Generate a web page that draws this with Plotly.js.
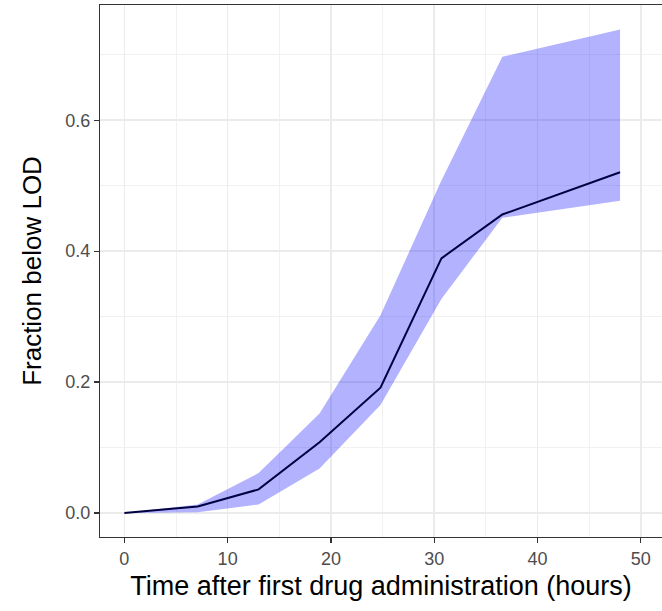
<!DOCTYPE html>
<html>
<head>
<meta charset="utf-8">
<script src="https://cdn.plot.ly/plotly-3.0.1.min.js"></script>
<style>html,body{margin:0;padding:0;background:#fff;}#chart{width:662px;height:611px;}</style>
</head>
<body>
<div id="chart"></div>
<script>
// Data
var timeHours = [0, 7.1, 13, 18.9, 24.8, 30.7, 36.6, 48];
var fractionMean = [0, 0.010, 0.036, 0.108, 0.1915, 0.389, 0.456, 0.5205];
var fractionLower = [0, 0.001, 0.013, 0.068, 0.165, 0.327, 0.451, 0.477];
var fractionUpper = [0, 0.013, 0.061, 0.152, 0.302, 0.508, 0.697, 0.7386];
var xTickVals = [0, 10, 20, 30, 40, 50];
var xMinorVals = [5, 15, 25, 35, 45];
var yTickVals = [0, 0.2, 0.4, 0.6];
var yTickText = ['0.0', '0.2', '0.4', '0.6'];
var yMinorVals = [0.1, 0.3, 0.5, 0.7];

var traces = [
  {x: timeHours, y: fractionLower, type: 'scatter', mode: 'lines',
   line: {width: 0, color: 'rgba(0,0,255,0)'}, hoverinfo: 'skip', showlegend: false},
  {x: timeHours, y: fractionUpper, type: 'scatter', mode: 'lines',
   line: {width: 0, color: 'rgba(0,0,255,0)'}, fill: 'tonexty',
   fillcolor: 'rgba(0,0,255,0.3)', hoverinfo: 'skip', showlegend: false},
  {x: timeHours, y: fractionMean, type: 'scatter', mode: 'lines',
   line: {width: 2, color: '#000040'}, showlegend: false}
];

var layout = {
  width: 662, height: 611,
  margin: {l: 100, r: 0, t: 5, b: 74},
  paper_bgcolor: '#ffffff', plot_bgcolor: '#ffffff',
  font: {family: 'Liberation Sans, Arial, sans-serif'},
  xaxis: {
    range: [-2.36, 52.06], tickvals: xTickVals, ticktext: xTickVals.map(String),
    showgrid: true, gridcolor: '#ebebeb', gridwidth: 1.6,
    minor: {tickvals: xMinorVals, showgrid: true, gridcolor: '#f0f0f0', gridwidth: 0.9, ticks: ''},
    zeroline: false, showline: true, mirror: true, linecolor: '#333333', linewidth: 1.2,
    ticks: 'outside', ticklen: 5, tickwidth: 1.2, tickcolor: '#333333',
    tickfont: {size: 18, color: '#4d4d4d'},
    title: {text: 'Time after first drug administration (hours)', font: {size: 27, color: '#000000'}, standoff: 8}
  },
  yaxis: {
    range: [-0.0367, 0.776], tickvals: yTickVals, ticktext: yTickText,
    showgrid: true, gridcolor: '#ebebeb', gridwidth: 1.6,
    minor: {tickvals: yMinorVals, showgrid: true, gridcolor: '#f0f0f0', gridwidth: 0.9, ticks: ''},
    zeroline: false, showline: true, mirror: false, linecolor: '#333333', linewidth: 1.2,
    ticks: 'outside', ticklen: 5, tickwidth: 1.2, tickcolor: '#333333',
    tickfont: {size: 18, color: '#4d4d4d'},
    title: {text: 'Fraction below LOD', font: {size: 26, color: '#000000'}, standoff: 16}
  }
};

Plotly.newPlot('chart', traces, layout, {displayModeBar: false, staticPlot: true});
</script>
</body>
</html>
